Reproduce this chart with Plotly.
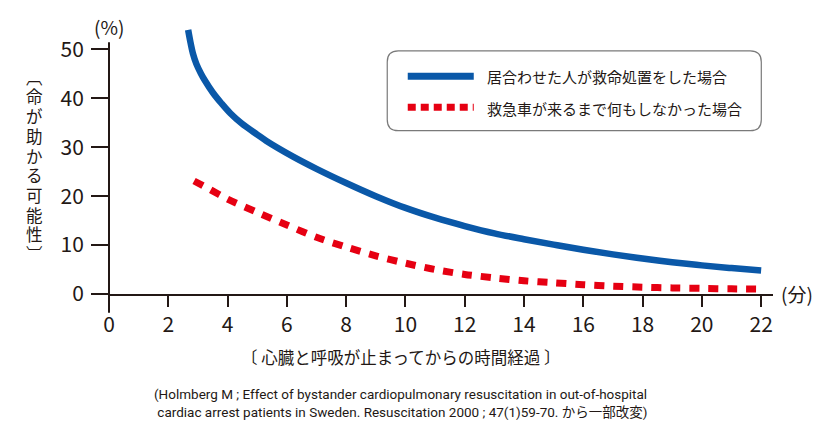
import plotly.graph_objects as go

# ---- data ----
cpr_minutes = [2.67, 2.75, 2.83, 2.95, 3.1, 3.23, 3.5, 3.79, 4.1, 4.47, 5.0, 5.31, 6.21, 7,
               8, 9, 10, 11, 12, 13, 14, 15, 16, 17, 18, 19, 20, 21, 22]
cpr_survival = [54.0, 51.4, 49.2, 47.0, 45.1, 43.7, 41.2, 39.0, 36.9, 34.9, 32.6, 31.3, 28.1,
                25.6, 22.7, 20.0, 17.6, 15.6, 13.9, 12.4, 11.2, 10.1, 9.05, 8.1, 7.25, 6.5,
                5.85, 5.3, 4.8]

wait_minutes = [2.87, 3.37, 4, 5, 6, 7, 8, 9, 10, 11, 12, 13, 14, 15, 16, 17, 18,
                19, 20, 21, 22]
wait_survival = [23.1, 21.5, 19.4, 16.7, 14.1, 11.6, 9.6, 7.8, 6.3, 5.0, 4.0, 3.3, 2.7,
                 2.3, 1.9, 1.6, 1.4, 1.25, 1.15, 1.05, 1.0]

series_names = ["居合わせた人が救命処置をした場合", "救急車が来るまで何もしなかった場合"]
x_ticks = list(range(0, 23, 2))
y_ticks = list(range(0, 51, 10))
x_title = "〔 心臓と呼吸が止まってからの時間経過 〕"
y_title_chars = ["︹", "命", "が", "助", "か", "る", "可", "能", "性", "︺"]
x_unit = "(分)"
y_unit = "(%)"
source_lines = [
    "(Holmberg M ; Effect of bystander cardiopulmonary resuscitation in out-of-hospital",
    " cardiac arrest patients in Sweden. Resuscitation 2000 ; 47(1)59-70. から一部改変)",
]

# ---- style ----
W, H = 830, 421
L, R, T, B = 109.3, 56.8, 24.5, 126.7
PW, PH = W - L - R, H - T - B
INK = "#231815"
BLUE = "#0a58a8"
RED = "#e60012"
JP = "Noto Sans CJK JP"


def px(xp):
    return (xp - L) / PW


def py(yp):
    return (H - B - yp) / PH


fig = go.Figure()
fig.add_trace(go.Scatter(x=cpr_minutes, y=cpr_survival, mode="lines", name=series_names[0],
                         line=dict(color=BLUE, width=6.5, shape="spline", smoothing=1.0),
                         hoverinfo="skip"))
fig.add_trace(go.Scatter(x=wait_minutes, y=wait_survival, mode="lines", name=series_names[1],
                         line=dict(color=RED, width=7, dash="10px,9px", shape="spline",
                                   smoothing=0.8),
                         hoverinfo="skip"))

shapes = []
# y axis line (extends a bit below the x axis)
shapes.append(dict(type="line", xref="paper", yref="paper", x0=0, x1=0,
                   y0=py(313), y1=py(41.7), line=dict(color=INK, width=2)))
# legend box with rounded corners
x0, x1, y0, y1, r = 387.5, 761.5, 50.5, 130.5, 11
path = (f"M {px(x0 + r)},{py(y0)} L {px(x1 - r)},{py(y0)} "
        f"Q {px(x1)},{py(y0)} {px(x1)},{py(y0 + r)} "
        f"L {px(x1)},{py(y1 - r)} Q {px(x1)},{py(y1)} {px(x1 - r)},{py(y1)} "
        f"L {px(x0 + r)},{py(y1)} Q {px(x0)},{py(y1)} {px(x0)},{py(y1 - r)} "
        f"L {px(x0)},{py(y0 + r)} Q {px(x0)},{py(y0)} {px(x0 + r)},{py(y0)} Z")
shapes.append(dict(type="path", xref="paper", yref="paper", path=path,
                   line=dict(color="#7a7a7a", width=1.2), fillcolor="white", layer="above"))
# legend samples
shapes.append(dict(type="line", xref="paper", yref="paper", x0=px(408), x1=px(474),
                   y0=py(76), y1=py(76), line=dict(color=BLUE, width=7)))
shapes.append(dict(type="line", xref="paper", yref="paper", x0=px(408), x1=px(474),
                   y0=py(107), y1=py(107), line=dict(color=RED, width=7, dash="8px,5px")))

annotations = [
    dict(text=series_names[0], x=px(485), y=py(76), xref="paper", yref="paper",
         xanchor="left", yanchor="middle", showarrow=False,
         font=dict(family=JP, size=15, color=INK)),
    dict(text=series_names[1], x=px(485), y=py(108), xref="paper", yref="paper",
         xanchor="left", yanchor="middle", showarrow=False,
         font=dict(family=JP, size=15, color=INK)),
    dict(text=y_unit, x=px(109), y=py(26), xref="paper", yref="paper",
         xanchor="center", yanchor="middle", showarrow=False,
         font=dict(family=JP, size=19, color=INK)),
    dict(text=x_unit, x=px(797), y=py(294), xref="paper", yref="paper",
         xanchor="center", yanchor="middle", showarrow=False,
         font=dict(family=JP, size=19, color=INK)),
    dict(text=x_title, x=px(401), y=py(357), xref="paper", yref="paper",
         xanchor="center", yanchor="middle", showarrow=False,
         font=dict(family=JP, size=16.5, color=INK)),
    dict(text="<br>".join(source_lines), x=px(152), y=py(404), xref="paper", yref="paper",
         xanchor="left", yanchor="middle", align="left", showarrow=False,
         font=dict(family="Liberation Sans Narrow, Roboto, " + JP, size=13.5, color=INK)),
]
# vertical y-axis title, one upright character per row
pitch = 19.8
first_center = 97 - pitch
for i, ch in enumerate(y_title_chars):
    annotations.append(dict(text=ch, x=px(35), y=py(first_center + i * pitch),
                            xref="paper", yref="paper", xanchor="center", yanchor="middle",
                            showarrow=False,
                            font=dict(family="Liberation Sans, " + JP, size=16.5, color=INK)))

fig.update_layout(
    width=W, height=H,
    margin=dict(l=L, r=R, t=T, b=B, pad=0),
    paper_bgcolor="white", plot_bgcolor="white",
    showlegend=False,
    shapes=shapes,
    annotations=annotations,
    font=dict(family=JP, color=INK),
    xaxis=dict(range=[0, 22.4], tickvals=x_ticks, ticktext=[str(v) for v in x_ticks],
               ticks="outside", ticklen=11, tickwidth=2, tickcolor=INK,
               showline=True, linecolor=INK, linewidth=2, automargin=False,
               showgrid=False, zeroline=False, fixedrange=True,
               tickfont=dict(family=JP, size=21, color=INK)),
    yaxis=dict(range=[0, 55], tickvals=y_ticks, ticktext=[str(v) for v in y_ticks],
               ticks="outside", ticklen=17, tickwidth=2, tickcolor=INK,
               showline=False, showgrid=False, zeroline=False, fixedrange=True,
               automargin=False, ticklabelstandoff=3,
               tickfont=dict(family=JP, size=21, color=INK)),
)

fig.write_html("out.html", config={"displayModeBar": False},
               post_script="document.body.style.margin='0';document.body.style.overflow='hidden';")
